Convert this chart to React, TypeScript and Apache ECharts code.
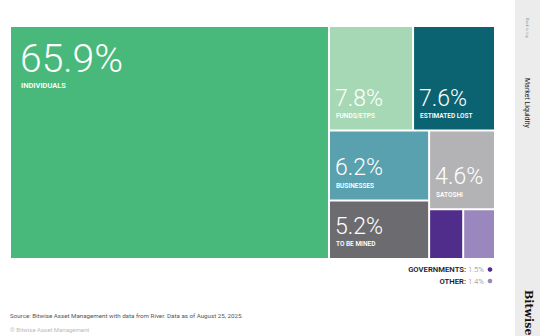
import React, { useEffect, useRef } from "react";
import * as echarts from "echarts";

const categories = ["INDIVIDUALS", "FUNDS/ETPS", "ESTIMATED LOST", "BUSINESSES", "TO BE MINED", "SATOSHI", "GOVERNMENTS", "OTHER"];
const shares = [65.9, 7.8, 7.6, 6.2, 5.2, 4.6, 1.5, 1.4];
const palette = ["#48b97b", "#a7d8b5", "#0b6271", "#5aa1af", "#6c6b70", "#b3b3b5", "#502d8b", "#9a87be"];
const legendItems = [6, 7];
const sourceNote = "Source: Bitwise Asset Management with data from River. Data as of August 25, 2025.";

const FONT = "Roboto";
const SMALL_BLOCK = 36;
const BOTTOM_PAD = 8;

function leaf(i: number, heights: Record<string, number>) {
  const big = i === 0;
  const labelled = i < 6;
  const h = heights[categories[i]];
  const padTop = big ? 12 : h ? Math.max(h - SMALL_BLOCK - BOTTOM_PAD, 0) : 0;
  return {
    name: categories[i],
    value: shares[i],
    itemStyle: { color: palette[i] },
    label: labelled
      ? {
          show: true,
          position: "insideTopLeft",
          padding: big ? [12, 0, 0, 9] : [padTop, 0, BOTTOM_PAD - 1, 5],
          overflow: "none",
          formatter: (p: any) => `{${big ? "vb" : "v"}|${p.value}%}\n{${big ? "nb" : "n"}|${p.name}}`,
          rich: {
            vb: { fontFamily: FONT, fontWeight: 300, fontSize: 39, color: "#fff", lineHeight: 40 },
            nb: { fontFamily: FONT, fontWeight: 600, fontSize: 7.5, color: "#fff", lineHeight: 12, padding: [0, 0, 0, 1] },
            v: { fontFamily: FONT, fontWeight: 300, fontSize: 23, color: "#fff", lineHeight: 25 },
            n: { fontFamily: FONT, fontWeight: 600, fontSize: 6.5, color: "#fff", lineHeight: 11, padding: [0, 0, 0, 1] },
          },
        }
      : { show: false },
  };
}

function buildData(heights: Record<string, number>) {
  return [
    leaf(0, heights),
    {
      name: "rest",
      children: [
        { name: "top", children: [leaf(1, heights), leaf(2, heights)] },
        {
          name: "bottom",
          children: [
            { name: "left", children: [leaf(3, heights), leaf(4, heights)] },
            { name: "right", children: [leaf(5, heights), { name: "small", children: [leaf(6, heights), leaf(7, heights)] }] },
          ],
        },
      ],
    },
  ];
}

export default function App() {
  const ref = useRef<HTMLDivElement>(null);
  useEffect(() => {
    if (!ref.current) return;
    const chart = echarts.init(ref.current, null, { renderer: "svg" });
    const lvl = { itemStyle: { gapWidth: 2, borderWidth: 0, borderColor: "#fff" } };
    const graphics: any[] = [
      { type: "rect", shape: { x: 515, y: 0, width: 25, height: 336 }, style: { fill: "#ececec" } },
      {
        type: "text", x: 527, y: 18, rotation: -Math.PI / 2,
        style: { text: "Back to top", x: 0, y: 0, fill: "#999", font: `4px ${FONT}`, textAlign: "left", textVerticalAlign: "middle" },
      },
      {
        type: "text", x: 527, y: 78, rotation: -Math.PI / 2,
        style: { text: "Market Liquidity", x: 0, y: 0, fill: "#222", font: `7px ${FONT}`, textAlign: "left", textVerticalAlign: "middle" },
      },
      {
        type: "text", x: 528, y: 290, rotation: -Math.PI / 2,
        style: { text: "Bitwise", x: 0, y: 0, fill: "#111", font: `bold 11px "DejaVu Serif"`, textAlign: "left", textVerticalAlign: "middle" },
      },
      {
        type: "text", x: 10, y: 316,
        style: { text: sourceNote, fill: "#555", font: `6.2px ${FONT}`, textAlign: "left", textVerticalAlign: "middle" },
      },
      {
        type: "text", x: 10, y: 329,
        style: { text: "© Bitwise Asset Management", fill: "#bbb", font: `6px ${FONT}`, textAlign: "left", textVerticalAlign: "middle" },
      },
    ];
    legendItems.forEach((idx, k) => {
      const y = 269.5 + k * 11.5;
      graphics.push({
        type: "text", x: 484, y,
        style: {
          text: `{n|${categories[idx]}:}{v| ${shares[idx]}%}`, textAlign: "right", textVerticalAlign: "middle",
          rich: {
            n: { fontFamily: FONT, fontWeight: 600, fontSize: 7.7, fill: "#222" },
            v: { fontFamily: FONT, fontWeight: 300, fontSize: 7.7, fill: "#888" },
          },
        },
      });
      graphics.push({ type: "circle", shape: { cx: 490, cy: y, r: 2.3 }, style: { fill: palette[idx] } });
    });
    const makeOption = (heights: Record<string, number>) => ({
      animation: false,
      backgroundColor: "#fff",
      graphic: graphics,
      series: [
        {
          type: "treemap",
          left: 11,
          top: 27,
          width: 483,
          height: 231,
          sort: false,
          roam: false,
          nodeClick: false,
          breadcrumb: { show: false },
          visibleMin: 0,
          squareRatio: 1,
          itemStyle: { gapWidth: 2, borderWidth: 0, borderColor: "#fff" },
          levels: [lvl, lvl, lvl, lvl, lvl, lvl],
          data: buildData(heights),
        },
      ],
    });
    chart.setOption(makeOption({}));
    const heights: Record<string, number> = {};
    try {
      const sm = (chart as any).getModel().getSeriesByIndex(0);
      const tree = sm.getData().tree;
      tree.root.eachNode((n: any) => {
        const l = n.getLayout();
        if (l && (!n.children || n.children.length === 0)) heights[n.name] = l.height;
      });
    } catch (e) {
      // ignore
    }
    chart.setOption(makeOption(heights));
    return () => chart.dispose();
  }, []);
  return <div ref={ref} style={{ position: "fixed", left: 0, top: 0, width: 540, height: 336 }} />;
}
